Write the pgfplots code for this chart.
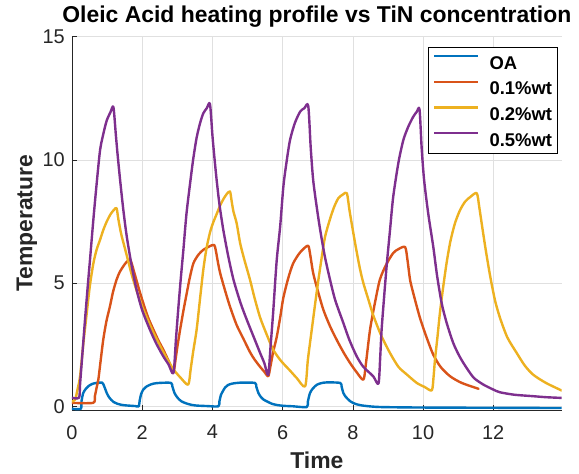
\documentclass[border=0pt]{standalone}
\usepackage{fontspec}
\setmainfont{Liberation Sans}
\usepackage{pgfplots}
\pgfplotsset{compat=1.18}
\definecolor{mblue}{rgb}{0,0.447,0.741}
\definecolor{morange}{rgb}{0.85,0.325,0.098}
\definecolor{myellow}{rgb}{0.929,0.694,0.125}
\definecolor{mpurple}{rgb}{0.494,0.184,0.556}
\definecolor{mgray}{rgb}{0.15,0.15,0.15}
\pgfplotsset{mline/.style={line width=2.4bp, line join=round, line cap=round, smooth, tension=0.45}}
\begin{document}
\begin{tikzpicture}
\begin{axis}[
  scale only axis, width=489.7bp, height=373.3bp,
  at={(0,0)}, anchor=south west,
  xmin=0, xmax=13.95, ymin=-0.15, ymax=15,
  xtick={0,2,4,6,8,10,12}, ytick={0,5,10,15},
  axis x line*=bottom, axis y line*=left,
  axis line style={mgray, line width=0.6bp},
  tick align=inside, major tick length=5bp,
  tick style={mgray, line width=0.6bp},
  grid=major, grid style={black!12, line width=0.6bp},
  /pgf/number format/assume math mode=true,
  ticklabel style={font=\fontsize{20}{20}\selectfont, text=mgray, inner sep=0pt},
  xticklabel style={anchor=north, yshift=-15bp},
  yticklabel style={anchor=east, xshift=-7bp},
  title={Oleic Acid heating profile vs TiN concentration},
  title style={font=\fontsize{23}{23}\selectfont\bfseries, at={(axis description cs:0.5,1)}, anchor=base, yshift=8bp, inner sep=0pt},
  xlabel={Time}, ylabel={Temperature},
  xlabel style={font=\fontsize{23}{23}\selectfont\bfseries, text=mgray, at={(axis description cs:0.5,-0.1554)}, anchor=base, inner sep=0pt},
  ylabel style={font=\fontsize{23}{23}\selectfont\bfseries, text=mgray, at={(axis description cs:-0.0807,0.5)}, anchor=base, rotate=0, inner sep=0pt},
  legend cell align=left,
  legend style={at={(1,1)}, anchor=north east, xshift=-4.4bp, yshift=-10.6bp,
    draw=black, line width=0.6bp, fill=white,
    font=\fontsize{18.5}{18.5}\selectfont\bfseries,
    inner xsep=5bp, inner ysep=7.5bp, row sep=11.4bp, column sep=10bp,
    nodes={inner sep=0pt, text height=13bp, text depth=0bp}},
  legend image code/.code={\draw[#1, line width=2.4bp, line cap=butt] (0bp,6.5bp) -- (44bp,6.5bp);},
]
\addplot[mblue, mline] coordinates {
(0,-0.1) (0.25,-0.1) (0.27,0.2) (0.32,0.54) (0.4,0.72) (0.48,0.83) (0.58,0.91) (0.7,0.95) (0.86,0.96)
(0.92,0.8) (0.99,0.54) (1.05,0.38) (1.12,0.26) (1.18,0.18) (1.3,0.1) (1.45,0.05) (1.6,0.03) (1.8,0.01) (1.9,0.0)
(1.93,0.25) (1.97,0.5) (2.03,0.68) (2.1,0.78) (2.2,0.86) (2.32,0.92) (2.5,0.95) (2.82,0.95)
(2.86,0.8) (2.92,0.54) (2.98,0.4) (3.05,0.28) (3.12,0.2) (3.25,0.12) (3.4,0.06) (3.55,0.03) (3.85,0.01) (4.17,0.0)
(4.2,0.2) (4.24,0.45) (4.3,0.62) (4.36,0.76) (4.44,0.86) (4.56,0.92) (4.79,0.96) (5.21,0.95)
(5.25,0.8) (5.31,0.54) (5.38,0.38) (5.45,0.28) (5.55,0.2) (5.7,0.1) (5.85,0.05) (6.02,0.02) (6.3,0.0) (6.69,-0.03)
(6.72,0.2) (6.78,0.54) (6.86,0.72) (6.97,0.87) (7.1,0.94) (7.26,0.97) (7.64,0.95)
(7.68,0.8) (7.73,0.54) (7.8,0.38) (7.86,0.29) (7.93,0.2) (8.05,0.11) (8.2,0.05) (8.4,0.01) (8.8,-0.03)
(10,-0.05) (12,-0.06) (13.95,-0.07)
};
\addlegendentry{OA}
\addplot[morange, mline] coordinates {
(0,0.14) (0.6,0.14) (0.65,0.4) (0.7,0.75) (0.75,1.08) (0.82,1.9) (0.89,2.7) (0.98,3.45) (1.08,4.05) (1.17,4.65)
(1.27,5.14) (1.36,5.45) (1.46,5.68) (1.55,5.85) (1.65,5.95) (1.7,5.8) (1.77,5.45) (1.84,5.1) (1.93,4.65) (2.03,4.19)
(2.17,3.6) (2.32,3.11) (2.46,2.68) (2.6,2.3) (2.75,1.85) (2.89,1.42)
(2.95,1.9) (3.0,2.4) (3.08,3.11) (3.17,3.85) (3.27,4.6) (3.36,5.25) (3.46,5.81) (3.6,6.15) (3.74,6.35) (3.9,6.48) (4.05,6.55)
(4.1,6.3) (4.15,5.9) (4.22,5.41) (4.36,4.7) (4.5,4.05) (4.69,3.3) (4.88,2.75) (5.07,2.2) (5.2,1.9) (5.36,1.6) (5.48,1.4) (5.59,1.22)
(5.65,1.6) (5.73,2.2) (5.83,2.8) (5.93,3.6) (6.02,4.4) (6.16,5.2) (6.3,5.8) (6.5,6.25) (6.72,6.52)
(6.78,6.2) (6.87,5.41) (7.0,4.7) (7.16,3.92) (7.35,3.25) (7.54,2.7) (7.73,2.2) (7.92,1.76) (8.1,1.4) (8.3,1.08)
(8.37,1.7) (8.49,3.11) (8.63,4.2) (8.77,5.14) (8.95,5.75) (9.15,6.22) (9.3,6.38) (9.49,6.46)
(9.56,5.9) (9.63,5.14) (9.72,4.6) (9.91,3.6) (10.1,2.8) (10.29,2.1) (10.5,1.6) (10.77,1.22) (11.1,0.95) (11.58,0.71)
};
\addlegendentry{0.1\%wt}
\addplot[myellow, mline] coordinates {
(0,0.2) (0.09,0.27) (0.16,0.7) (0.23,1.22) (0.32,2.5) (0.42,3.78) (0.51,4.9) (0.61,5.81) (0.7,6.35) (0.8,6.76)
(0.89,7.15) (0.99,7.5) (1.1,7.8) (1.2,7.98) (1.27,8.04)
(1.32,7.6) (1.4,7.0) (1.5,6.45) (1.6,5.9) (1.7,5.35) (1.84,4.7) (2.0,4.05) (2.13,3.6) (2.3,3.05) (2.51,2.45)
(2.7,1.95) (2.89,1.5) (3.1,1.15) (3.31,0.88)
(3.38,1.5) (3.45,2.2) (3.55,3.11) (3.65,4.4) (3.74,5.54) (3.83,6.4) (3.93,7.05) (4.02,7.45) (4.12,7.8) (4.22,8.15)
(4.31,8.4) (4.4,8.6) (4.5,8.72)
(4.55,8.3) (4.6,7.9) (4.69,7.43) (4.79,6.62) (4.9,6.0) (5.07,5.14) (5.2,4.4) (5.36,3.6) (5.55,2.9) (5.73,2.3)
(5.95,1.85) (6.21,1.45) (6.4,1.15) (6.64,0.81)
(6.72,1.9) (6.83,3.11) (6.93,4.2) (7.02,5.14) (7.12,6.1) (7.21,6.89) (7.35,7.6) (7.47,8.1) (7.59,8.45) (7.72,8.6) (7.83,8.65)
(7.9,8.0) (7.97,7.4) (8.08,6.5) (8.2,5.6) (8.3,5.0) (8.45,4.3) (8.58,3.7) (8.8,2.9) (9.06,2.16) (9.3,1.6)
(9.53,1.3) (9.82,0.95) (10.05,0.78) (10.25,0.65)
(10.3,1.2) (10.34,1.89) (10.41,2.8) (10.48,3.78) (10.57,4.8) (10.67,5.81) (10.78,6.7) (10.91,7.43) (11.05,7.95)
(11.2,8.31) (11.35,8.5) (11.53,8.65)
(11.6,8.1) (11.67,7.43) (11.78,6.4) (11.91,5.3) (12.05,4.3) (12.19,3.6) (12.4,2.8) (12.67,2.16) (12.9,1.65)
(13.14,1.28) (13.5,0.95) (13.95,0.64)
};
\addlegendentry{0.2\%wt}
\addplot[mpurple, mline] coordinates {
(0,0.35) (0.2,0.35) (0.23,0.9) (0.3,2.2) (0.37,3.5) (0.45,4.9) (0.51,5.9) (0.61,7.6) (0.7,9.0) (0.8,10.4)
(0.9,11.1) (0.99,11.6) (1.1,11.95) (1.18,12.14)
(1.25,11.0) (1.3,10.2) (1.37,9.19) (1.46,8.0) (1.56,6.89) (1.7,5.7) (1.84,4.73) (2.0,3.9) (2.22,3.11) (2.4,2.55)
(2.6,2.03) (2.75,1.7) (2.89,1.35)
(2.96,2.7) (3.03,4.0) (3.1,5.2) (3.17,6.3) (3.26,7.8) (3.36,9.0) (3.45,10.0) (3.55,10.9) (3.65,11.5) (3.74,11.89)
(3.84,12.1) (3.93,12.27)
(4.0,11.0) (4.05,10.2) (4.12,9.19) (4.2,8.2) (4.31,7.16) (4.45,6.1) (4.6,5.14) (4.8,4.2) (4.98,3.51) (5.18,2.8)
(5.36,2.16) (5.48,1.75) (5.59,1.28)
(5.66,2.5) (5.73,3.8) (5.83,5.9) (5.93,7.3) (6.02,8.9) (6.1,9.8) (6.21,10.8) (6.35,11.5) (6.5,11.96) (6.62,12.1) (6.73,12.19)
(6.8,10.5) (6.87,9.19) (6.97,8.1) (7.07,7.16) (7.2,6.1) (7.35,5.14) (7.5,4.3) (7.73,3.38) (7.9,2.7) (8.11,2.03)
(8.3,1.6) (8.58,1.22) (8.73,0.92)
(8.78,2.0) (8.82,3.11) (8.9,4.6) (8.97,5.81) (9.06,7.16) (9.15,8.5) (9.3,9.9) (9.44,10.81) (9.58,11.35) (9.72,11.75)
(9.82,11.95) (9.9,12.05)
(9.96,10.5) (10.03,9.19) (10.15,7.8) (10.29,6.49) (10.4,5.3) (10.53,4.19) (10.67,3.4) (10.86,2.57) (11.05,2.0)
(11.24,1.56) (11.45,1.15) (11.72,0.88) (12.0,0.68) (12.19,0.57) (12.6,0.47) (13.14,0.41) (13.5,0.37) (13.95,0.34)
};
\addlegendentry{0.5\%wt}
\end{axis}
\pgfresetboundingbox
\path (-72bp,-64bp) rectangle (507bp,410bp);
\end{tikzpicture}
\end{document}
